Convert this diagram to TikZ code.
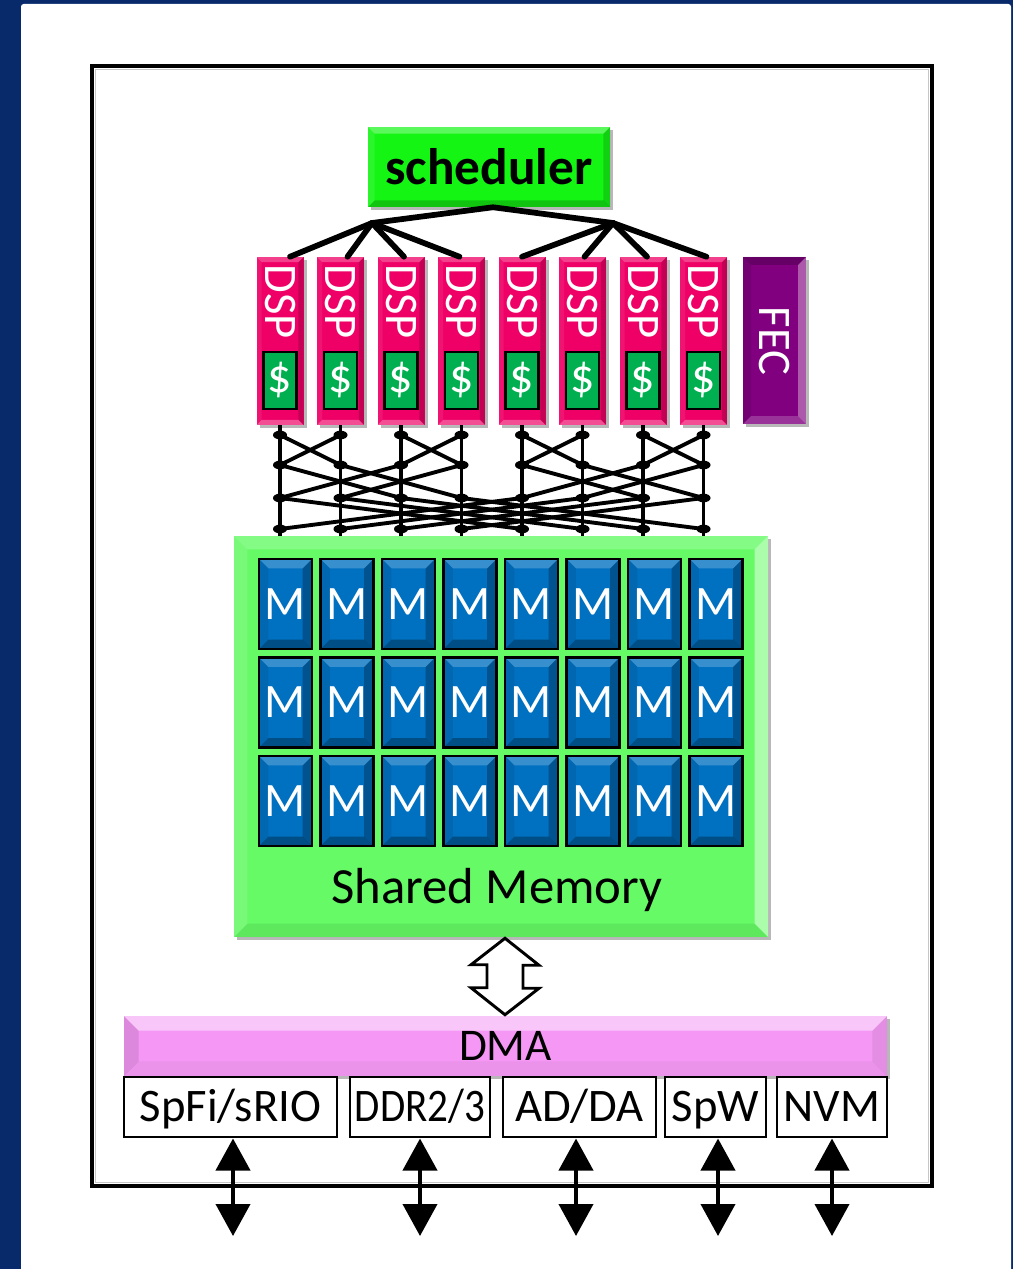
\documentclass[tikz,border=0pt]{standalone}
\usepackage{fontspec}
\setmainfont{Carlito}
\usetikzlibrary{shapes.geometric,arrows.meta,calc,shadows}
\definecolor{navy}{RGB}{8,42,107}
\definecolor{schgreen}{RGB}{20,245,20}
\definecolor{dspred}{RGB}{238,0,102}
\definecolor{cachegreen}{RGB}{0,176,80}
\definecolor{fecpurple}{RGB}{128,0,128}
\definecolor{memgreen}{RGB}{102,250,102}
\definecolor{mblue}{RGB}{0,112,192}
\definecolor{dmapink}{RGB}{245,152,245}
\newcommand\bevpaint[1]{%
  \path (path picture bounding box.north west) coordinate (pNW)
        (path picture bounding box.north east) coordinate (pNE)
        (path picture bounding box.south west) coordinate (pSW)
        (path picture bounding box.south east) coordinate (pSE);
  \fill[bevT] (pNW) -- (pNE) -- ([shift={(-#1,-#1)}]pNE) -- ([shift={(#1,-#1)}]pNW) -- cycle;
  \fill[bevB] (pSW) -- (pSE) -- ([shift={(-#1,#1)}]pSE) -- ([shift={(#1,#1)}]pSW) -- cycle;
  \fill[bevL] (pNW) -- (pSW) -- ([shift={(#1,#1)}]pSW) -- ([shift={(#1,-#1)}]pNW) -- cycle;
  \fill[bevR] (pNE) -- (pSE) -- ([shift={(-#1,#1)}]pSE) -- ([shift={(-#1,-#1)}]pNE) -- cycle;
}
\newcommand\pxbox[7][]{%
  \node[#1,minimum width={((#5)-(#3))*0.75pt},minimum height={((#6)-(#4))*0.75pt}]
    (#2) at ({((#3)+(#5))/2},{((#4)+(#6))/2}) {#7};}
\tikzset{
  bevT/.style={fill=white,fill opacity=.3},
  bevB/.style={fill=black,fill opacity=.2},
  bevL/.style={fill=white,fill opacity=.1},
  bevR/.style={fill=black,fill opacity=.15},
  bevel/.style={path picture={\bevpaint{#1}}},
  shad/.style={drop shadow={shadow xshift=2.5pt,shadow yshift=-2.5pt,opacity=.28,fill=black}},
  sched/.style={fill=schgreen,bevel=5pt,shad,inner sep=0pt,
    font=\fontsize{38.5}{38.5}\selectfont\bfseries},
  dsp/.style={fill=dspred,bevel=3.8pt,shad,inner sep=0pt,
    bevT/.style={fill=white,fill opacity=.25},
    bevB/.style={fill=white,fill opacity=.3},
    bevL/.style={fill=white,fill opacity=.08},
    bevR/.style={fill=black,fill opacity=.18}},
  dsplabel/.style={text=white,rotate=-90,inner sep=0pt,font=\fontsize{35}{35}\selectfont},
  cache/.style={fill=cachegreen,draw=black,line width=1.6pt,inner sep=0pt,text=white,
    font=\fontsize{36}{36}\selectfont},
  fec/.style={fill=fecpurple,bevel=6pt,shad,inner sep=0pt,
    bevT/.style={fill=black,fill opacity=.2},
    bevB/.style={fill=white,fill opacity=.2},
    bevL/.style={fill=black,fill opacity=.1},
    bevR/.style={fill=white,fill opacity=.35}},
  bus/.style={line width=4.3pt,line cap=round,line join=round},
  xbar/.style={line width=2.9pt},
  dot/.style={ellipse,fill=black,inner sep=0pt,minimum width=10.5pt,minimum height=6.5pt},
  mem/.style={fill=memgreen,bevel=10pt,shad,inner sep=0pt,
    bevT/.style={fill=white,fill opacity=.2},
    bevB/.style={fill=black,fill opacity=.07},
    bevL/.style={fill=white,fill opacity=.12},
    bevR/.style={fill=white,fill opacity=.45}},
  mblk/.style={fill=mblue,draw=black,line width=1.6pt,bevel=7pt,inner sep=0pt,text=white,
    font=\fontsize{36}{36}\selectfont,
    bevT/.style={fill=white,fill opacity=.22},
    bevB/.style={fill=black,fill opacity=.3},
    bevL/.style={fill=black,fill opacity=.08},
    bevR/.style={fill=black,fill opacity=.25}},
  memlabel/.style={inner sep=0pt,font=\fontsize{38}{38}\selectfont},
  dma/.style={fill=dmapink,bevel=11pt,shad,inner sep=0pt,font=\fontsize{34}{34}\selectfont,
    bevT/.style={fill=white,fill opacity=.45},
    bevB/.style={fill=black,fill opacity=.04},
    bevL/.style={fill=black,fill opacity=.1},
    bevR/.style={fill=black,fill opacity=.07}},
  iface/.style={fill=white,draw=black,line width=1.5pt,inner sep=0pt,
    font=\fontsize{35}{35}\selectfont,text height=22.5pt,text depth=0.5pt},
  hollow/.style={draw=black,fill=white,line width=2.2pt,line join=miter},
  ioarrow/.style={line width=3pt,{Triangle[width=25.5pt,length=24pt]}-{Triangle[width=25.5pt,length=24pt]}},
}
\begin{document}
\begin{tikzpicture}[x=0.75pt,y=-0.75pt]
\useasboundingbox (0,0) rectangle (1013,1269);
\fill[navy] (0,0) rectangle (1013,1269);
\fill[white,rounded corners=2pt] (21,4) rectangle (1011,1280);
% outer frame
\draw[gray!45,line width=0.8pt] (95.5,69.5) rectangle (928.5,1182.5);
\draw[line width=2.3pt] (92,66) rectangle (932,1186);

% scheduler
\pxbox[sched]{sch}{368}{127}{610}{207}{scheduler}

% DSPs
\foreach \i in {1,...,8}{
  \pgfmathsetmacro\c{280+60.5*(\i-1)}
  \pxbox[dsp]{dsp\i}{\c-23.5}{257}{\c+23.5}{425}{}
  \node[dsplabel] (dspl\i) at (\c,302) {DSP};
  \pxbox[cache]{ca\i}{\c-16.5}{352}{\c+16.5}{409}{\$}
}
% FEC
\pxbox[fec]{fec}{743}{257}{806}{424}{}
\node[dsplabel] (fecl) at (774.5,341) {FEC};

% scheduler bus
\coordinate (hubL) at (372,223);
\coordinate (hubR) at (613,223);
\draw[bus] (hubL) -- ($(sch.south)+(4,0)$) -- (hubR);
\foreach \i/\o in {1/10,2/7,3/3,4/-2}
  \draw[bus] (hubL) -- ($(dsp\i.north)+(\o,0)$);
\foreach \i/\o in {5/0,6/2,7/4,8/3}
  \draw[bus] (hubR) -- ($(dsp\i.north)+(\o,0)$);

% shared memory
\pxbox[mem]{mem}{234}{536}{768}{937}{}

% crossbar
\foreach \i in {1,...,8}{
  \pgfmathsetmacro\c{280+60.5*(\i-1)}
  \foreach \r/\y in {1/435,2/465,3/498,4/529}
    \coordinate (x\i\r) at (\c,\y);
  \draw[xbar] (dsp\i.south) -- (dsp\i.south |- mem.north);
}
\foreach \a/\b/\r in {1/2/1,3/4/1,5/6/1,7/8/1,1/3/2,2/4/2,5/7/2,6/8/2,1/5/3,2/6/3,3/7/3,4/8/3}{
  \pgfmathtruncatemacro\s{\r+1}
  \draw[xbar] (x\a\r) -- (x\b\s);
  \draw[xbar] (x\b\r) -- (x\a\s);
}
\foreach \i in {1,...,8}
  \foreach \r in {1,...,4}
    \node[dot] (dot\i\r) at (x\i\r) {};

% memory blocks
\foreach \r in {0,1,2}
  \foreach \k in {0,...,7}{
    \pgfmathsetmacro\lx{259+61.5*\k}
    \pgfmathsetmacro\ty{559+98.5*\r}
    \pxbox[mblk]{m\r\k}{\lx}{\ty}{\lx+53}{\ty+90}{M}
  }
\node[memlabel] (memlbl) at (497,890) {Shared Memory};

% DMA and interfaces
\pxbox[dma]{dma}{124}{1016}{887}{1076}{DMA}
\draw[hollow] ($(mem.south)+(4,1)$) -- ++(34,27) -- ++(-16,0) -- ++(0,23) -- ++(16,0)
  -- ($(dma.north)+(-0.5,-1)$) -- ++(-34,-27) -- ++(16,0) -- ++(0,-23) -- ++(-16,0) -- cycle;

\pxbox[iface]{if1}{124}{1077}{337}{1137}{SpFi/sRIO}
\pxbox[iface]{if2}{350}{1077}{490}{1137}{\scalebox{0.88}[1]{DDR2/3}}
\pxbox[iface]{if3}{503}{1077}{656}{1137}{AD/DA}
\pxbox[iface]{if4}{665}{1077}{766}{1137}{SpW}
\pxbox[iface]{if5}{777}{1077}{887}{1137}{NVM}

\foreach \n/\o in {if1/2.5,if2/0,if3/-3.5,if4/2.5,if5/0}{
  \coordinate (out\n) at ($(\n.south)+(\o,98)$);
  \draw[ioarrow] ($(\n.south)+(\o,0.5)$) -- (out\n);
}
\end{tikzpicture}
\end{document}
